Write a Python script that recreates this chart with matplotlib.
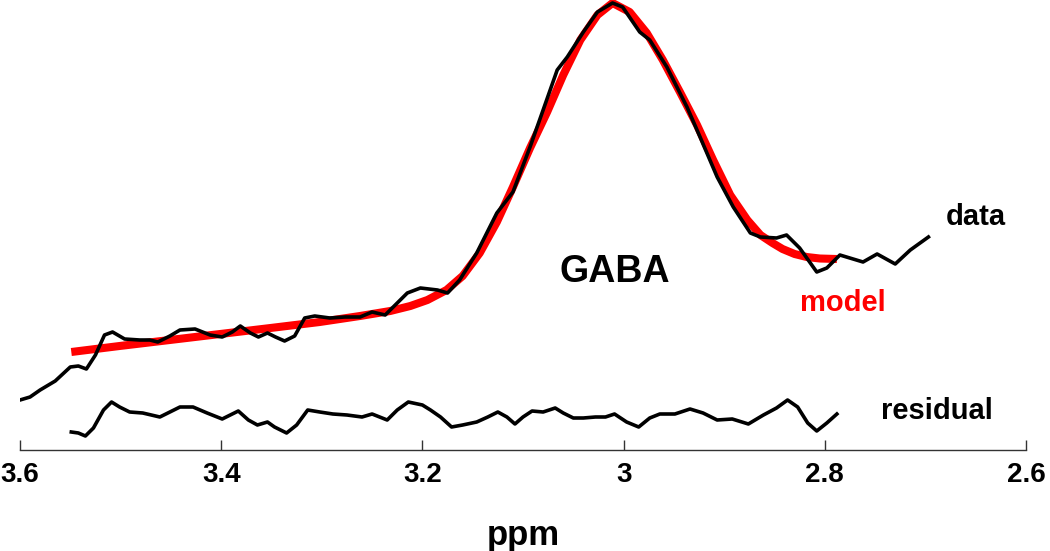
import numpy as np
import matplotlib
matplotlib.use("Agg")
import matplotlib.pyplot as plt

plt.rcParams['font.family'] = ['Liberation Sans', 'DejaVu Sans']
plt.rcParams['font.weight'] = 'bold'

# data (ppm, height above the axis)
data_ppm = [3.600, 3.590, 3.580, 3.565, 3.550, 3.542, 3.534, 3.525, 3.516, 3.508,
            3.496, 3.481, 3.471, 3.463, 3.451, 3.441, 3.426, 3.411, 3.399, 3.389,
            3.381, 3.371, 3.363, 3.354, 3.346, 3.337, 3.327, 3.317, 3.307, 3.292,
            3.277, 3.262, 3.250, 3.237, 3.227, 3.215, 3.202, 3.185, 3.175, 3.163,
            3.146, 3.126, 3.110, 3.093, 3.080, 3.066, 3.056, 3.040, 3.026, 3.011,
            3.001, 2.984, 2.974, 2.957, 2.937, 2.924, 2.907, 2.891, 2.874, 2.864,
            2.848, 2.838, 2.825, 2.808, 2.798, 2.785, 2.762, 2.748, 2.730, 2.715,
            2.697]
data_val = [50, 53, 60, 69, 83, 84, 81, 95, 115, 118,
            111, 110, 110, 108, 114, 120, 121, 115, 113, 118,
            124, 117, 113, 117, 113, 109, 114, 132, 134, 132,
            133, 133, 138, 135, 145, 157, 162, 160, 157, 170,
            197, 237, 258, 303, 340, 380, 393, 418, 438, 447,
            443, 418, 410, 383, 343, 313, 273, 243, 217, 213,
            212, 215, 202, 178, 182, 195, 188, 196, 186, 200,
            213]

# model fit
model_ppm = [3.549, 3.501, 3.451, 3.401, 3.351, 3.302, 3.262, 3.232, 3.212, 3.195,
             3.176, 3.160, 3.143, 3.126, 3.110, 3.093, 3.076, 3.060, 3.043, 3.026,
             3.011, 2.994, 2.977, 2.961, 2.944, 2.927, 2.911, 2.894, 2.877, 2.864,
             2.852, 2.842, 2.830, 2.818, 2.805, 2.788]
model_val = [98, 104, 110, 116, 122, 128, 134, 139, 144, 150,
             160, 174, 197, 228, 263, 302, 338, 375, 410, 435,
             447, 438, 417, 390, 358, 325, 290, 255, 230, 215,
             207, 201, 196, 193, 191.5, 191]

# residual
resid_ppm = [3.549, 3.542, 3.535, 3.527, 3.517, 3.509, 3.501, 3.491, 3.478, 3.461,
             3.451, 3.441, 3.428, 3.414, 3.399, 3.383, 3.373, 3.364, 3.354, 3.347,
             3.335, 3.325, 3.314, 3.302, 3.289, 3.275, 3.260, 3.250, 3.235, 3.225,
             3.214, 3.200, 3.192, 3.182, 3.171, 3.160, 3.146, 3.135, 3.125, 3.116,
             3.108, 3.100, 3.091, 3.080, 3.068, 3.060, 3.050, 3.040, 3.028, 3.018,
             3.009, 2.997, 2.985, 2.974, 2.964, 2.949, 2.934, 2.921, 2.907, 2.892,
             2.876, 2.861, 2.848, 2.837, 2.827, 2.817, 2.808, 2.798, 2.788]
resid_val = [18, 17, 14, 22, 40, 48, 43, 38, 37, 33,
             38, 43, 43, 37, 31, 39, 30, 25, 28, 23,
             17, 25, 40, 38, 36, 35, 33, 36, 30, 40,
             48, 45, 40, 33, 23, 25, 28, 33, 38, 33,
             26, 33, 39, 38, 42, 37, 32, 32, 33, 33,
             36, 28, 23, 32, 36, 36, 41, 37, 30, 31,
             26, 35, 42, 50, 43, 27, 19, 27, 36]

xticks = [3.6, 3.4, 3.2, 3.0, 2.8, 2.6]
xtick_labels = ['3.6', '3.4', '3.2', '3', '2.8', '2.6']

fig = plt.figure(figsize=(10.5, 5.51), dpi=100)
ax = fig.add_axes([20 / 1050, 101 / 551, 1006 / 1050, 450 / 551])

ax.plot(model_ppm, model_val, color='#ff0000', lw=5.8, solid_capstyle='butt', zorder=2)
ax.plot(data_ppm, data_val, color='black', lw=2.6, solid_joinstyle='round', zorder=3)
ax.plot(resid_ppm, resid_val, color='black', lw=2.6, solid_joinstyle='round', zorder=3)

ax.set_xlim(3.6, 2.6)
ax.set_ylim(0, 450)

for s in ['top', 'left', 'right']:
    ax.spines[s].set_visible(False)
ax.spines['bottom'].set_color('#333333')
ax.spines['bottom'].set_linewidth(1)
ax.set_yticks([])
ax.set_xticks(xticks)
ax.set_xticklabels(xtick_labels, fontsize=20, fontweight='bold')
ax.tick_params(axis='x', direction='in', length=7, width=1, color='#333333', pad=9)
ax.set_xlabel('ppm', fontsize=25, fontweight='bold', labelpad=22)

ax.text(2.650, 233, 'data', fontsize=21, fontweight='bold', ha='center', va='center')
ax.text(3.009, 178, 'GABA', fontsize=27, fontweight='bold', ha='center', va='center')
ax.text(2.782, 147, 'model', fontsize=21, fontweight='bold', color='#ff0000',
        ha='center', va='center')
ax.text(2.689, 39, 'residual', fontsize=21, fontweight='bold', ha='center', va='center')

fig.savefig('out.png', dpi=100)
